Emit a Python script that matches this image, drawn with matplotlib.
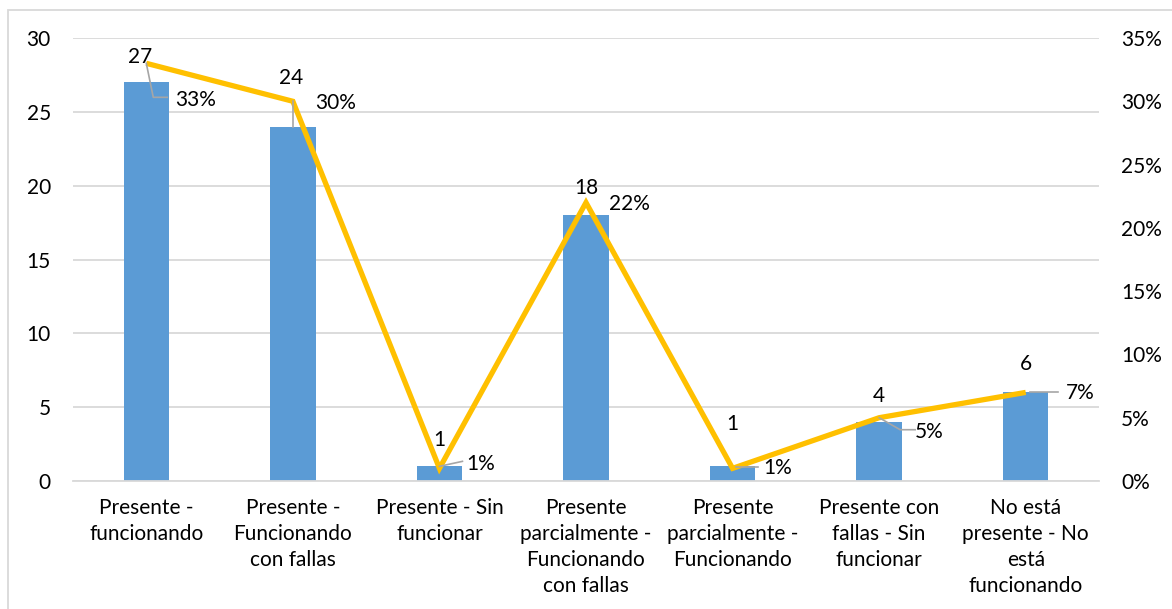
import numpy as np
import matplotlib
matplotlib.use('Agg')
import matplotlib.pyplot as plt
from matplotlib.lines import Line2D
from matplotlib.patches import Rectangle
from matplotlib.transforms import IdentityTransform

plt.rcParams['font.family'] = ['Lato', 'DejaVu Sans']

categories = ['Presente -\nfuncionando', 'Presente -\nFuncionando\ncon fallas',
              'Presente - Sin\nfuncionar', 'Presente\nparcialmente -\nFuncionando\ncon fallas',
              'Presente\nparcialmente -\nFuncionando', 'Presente con\nfallas - Sin\nfuncionar',
              'No está\npresente - No\nestá\nfuncionando']
counts = [27, 24, 1, 18, 1, 4, 6]
percents = [33, 30, 1, 22, 1, 5, 7]

# label placement (pixel offsets from the mark)
count_off = [(-6, 25), (-2, 49), (0, 26), (0, 27), (0, 42), (0, 26), (0, 28)]
pct_off = [(49, -37), (43, -2), (41, 4), (43, -1), (45, 0), (50, -14), (55, -1)]
leaders = [[(0, 0), (7, -34), (21, -34)], [(0, 0), (0, -26)], [(0, 2), (23, 7)], None,
           [(3, 1), (25, 1)], [(0, 0), (21, -12), (36, -12)], [(4, 0), (32, 0)]]

fs = 15
fig = plt.figure(figsize=(11.72, 6.09), dpi=100)
ax = fig.add_axes([73 / 1172, 1 - 481 / 609, 1026 / 1172, 443 / 609])
ax2 = ax.twinx()

x = np.arange(len(categories))
ax.bar(x, counts, width=0.31, color='#5B9BD5', zorder=2)
ax.set_ylim(0, 30)
ax.set_yticks(range(0, 31, 5))
ax.set_xlim(-0.5, len(categories) - 0.5)
ax.set_xticks(x)
ax.set_xticklabels(categories, fontsize=fs, linespacing=1.38)
ax.grid(axis='y', color='#D9D9D9', linewidth=1.3, zorder=0)
ax.set_axisbelow(True)

ax2.plot(x, [p / 100 for p in percents], color='#FFC000', linewidth=3.8, zorder=3,
         solid_capstyle='butt', solid_joinstyle='miter')
ax2.set_ylim(0, 0.35)
ax2.set_yticks(np.arange(0, 0.351, 0.05))
ax2.set_yticklabels(['%d%%' % round(v * 100) for v in np.arange(0, 0.351, 0.05)])

for a in (ax, ax2):
    for s in a.spines.values():
        s.set_visible(False)
    a.tick_params(length=0, labelsize=fs, colors='black')
ax.spines['bottom'].set_visible(True)
ax.spines['bottom'].set_color('#D9D9D9')
ax.spines['bottom'].set_linewidth(1.3)
ax.tick_params(axis='y', pad=16)
ax.tick_params(axis='x', pad=12)
ax2.tick_params(axis='y', pad=16)
ax2.set_zorder(ax.get_zorder() + 1)
ax2.patch.set_visible(False)

for i, c in enumerate(counts):
    ax.annotate(str(c), (i, c), xytext=count_off[i], textcoords='offset pixels',
                ha='center', va='center', fontsize=fs, zorder=5)

fig.canvas.draw()
for i, p in enumerate(percents):
    ax2.annotate('%d%%' % p, (i, p / 100), xytext=pct_off[i], textcoords='offset pixels',
                 ha='center', va='center', fontsize=fs, zorder=5)
    if leaders[i]:
        px, py = ax2.transData.transform((i, p / 100))
        fig.add_artist(Line2D([px + dx for dx, dy in leaders[i]],
                              [py + dy for dx, dy in leaders[i]],
                              transform=IdentityTransform(), color='#A6A6A6', lw=1.2))

fig.add_artist(Rectangle((8 / 1172, -0.1), 1.2, 1.1 - 10 / 609, transform=fig.transFigure,
                         fill=False, edgecolor='#D9D9D9', linewidth=1.3))

fig.savefig('out.png', dpi=100)
